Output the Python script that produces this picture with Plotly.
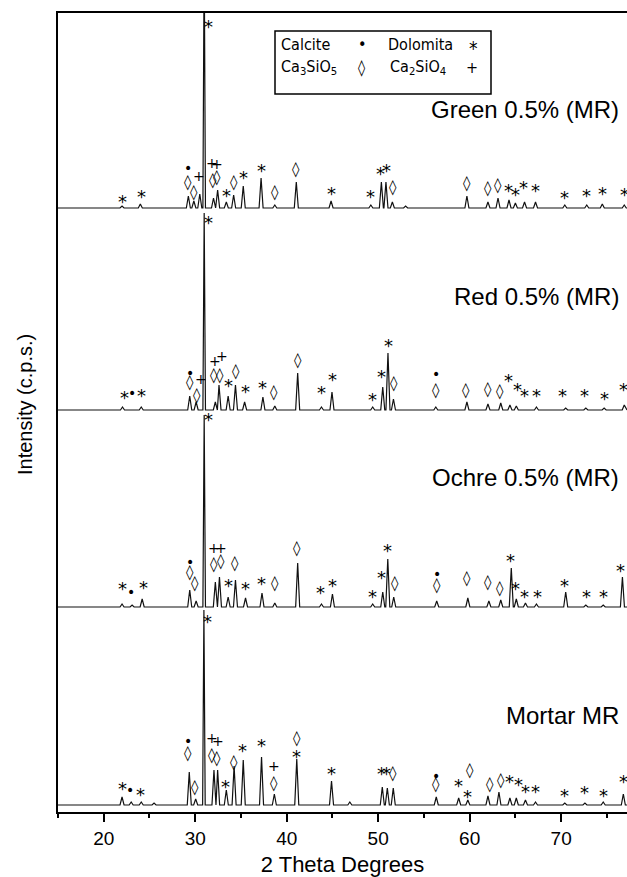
import plotly.graph_objects as go

# ---------------- data (2theta degrees, intensity in c.p.s.) ----------------
samples = ["Green 0.5% (MR)", "Red 0.5% (MR)", "Ochre 0.5% (MR)", "Mortar MR"]
offsets = [6040, 4020, 2050, 70]  # vertical stacking offset of each pattern

green_pos = [22.0, 24.0, 29.25, 29.85, 30.5, 30.98, 32.0, 32.45, 33.4, 34.2, 35.25, 37.2, 38.7, 41.05,
             44.85, 49.2, 50.35, 50.85, 51.55, 53.0, 59.7, 62.0, 63.1, 64.3, 65.0, 66.0, 67.2, 70.4, 72.8, 74.5, 76.9]
green_int = [20, 40, 120, 70, 140, 2600, 100, 180, 60, 130, 220, 300, 30, 260,
             70, 30, 260, 260, 60, 20, 120, 60, 100, 80, 50, 60, 60, 30, 30, 40, 30]

red_pos = [22.05, 24.1, 29.4, 30.1, 30.98, 32.2, 32.6, 33.6, 34.4, 35.4, 37.4, 38.7, 41.2, 43.8, 44.95,
           49.4, 50.5, 51.07, 51.67, 56.3, 59.7, 62.0, 63.4, 64.4, 65.1, 67.3, 70.5, 72.7, 74.7, 76.9]
red_int = [30, 30, 140, 80, 1970, 80, 250, 140, 250, 80, 130, 40, 370, 30, 180,
           30, 230, 570, 110, 30, 80, 60, 70, 50, 40, 30, 20, 20, 20, 50]

ochre_pos = [22.0, 23.1, 24.2, 29.4, 30.1, 30.98, 32.2, 32.65, 33.6, 34.4, 35.5, 37.3, 38.7, 41.2, 43.8,
             45.0, 49.4, 50.5, 51.05, 51.7, 56.4, 59.8, 62.1, 63.4, 64.55, 65.1, 66.1, 67.3, 70.5, 72.7, 74.6, 76.7]
ochre_int = [30, 20, 80, 170, 60, 1920, 250, 300, 100, 270, 90, 140, 40, 440, 30,
             130, 30, 150, 480, 100, 60, 90, 60, 70, 390, 80, 40, 30, 150, 20, 20, 300]

mortar_pos = [22.0, 23.0, 24.1, 25.5, 29.35, 30.05, 30.95, 32.05, 32.45, 33.4, 34.25, 35.25, 37.25, 38.65,
              41.1, 44.9, 46.9, 50.45, 51.0, 51.65, 56.35, 58.8, 59.8, 62.0, 63.2, 64.4, 65.1, 66.1, 67.2,
              70.4, 72.6, 74.6, 76.8]
mortar_int = [80, 30, 30, 20, 330, 60, 1950, 350, 350, 150, 390, 450, 480, 110,
              460, 240, 30, 180, 170, 170, 80, 70, 50, 90, 130, 70, 70, 50, 30,
              20, 20, 30, 110]

# phase marks: symbol, 2theta, height above the pattern baseline (c.p.s.)
green_sym = ["*", "*", "•", "◊", "◊", "+", "*", "+", "+", "◊", "◊", "*", "◊", "*", "*", "◊", "◊", "*", "*",
             "*", "*", "◊", "◊", "◊", "◊", "*", "*", "*", "*", "*", "*", "*", "*"]
green_sym_x = [22.1, 24.1, 29.25, 29.25, 29.85, 30.45, 31.45, 31.87, 32.4, 31.9, 32.4, 33.4, 34.25, 35.3, 37.25,
               38.75, 41.05, 44.9, 49.15, 50.3, 50.9, 51.6, 59.7, 62.0, 63.1, 64.3, 65.0, 65.9, 67.2, 70.4,
               72.8, 74.5, 76.9]
green_sym_y = [110, 160, 400, 260, 160, 320, 1860, 450, 440, 280, 310, 170, 260, 350, 420,
               160, 390, 190, 160, 390, 420, 210, 250, 200, 230, 220, 180, 250, 220, 150,
               170, 190, 180]

red_sym = ["*", "•", "*", "•", "◊", "◊", "+", "*", "+", "+", "◊", "◊", "*", "◊", "*", "*", "◊", "◊", "*", "*",
           "*", "*", "*", "◊", "•", "◊", "◊", "◊", "◊", "*", "*", "*", "*", "*", "*", "*", "*"]
red_sym_x = [22.25, 23.1, 24.15, 29.4, 29.4, 30.2, 30.6, 31.4, 32.2, 32.9, 32.1, 32.7, 33.6, 34.5, 35.5,
             37.4, 38.6, 41.2, 43.8, 45.05, 49.4, 50.4, 51.1, 51.7, 56.3, 56.3, 59.6, 62.0, 63.3, 64.3,
             65.2, 66.0, 67.3, 70.2, 72.6, 74.7, 76.8]
red_sym_y = [170, 170, 190, 370, 280, 150, 310, 1920, 490, 540, 350, 350, 290, 390, 230,
             270, 180, 500, 220, 350, 150, 380, 690, 270, 360, 200, 200, 210, 190, 340,
             250, 190, 190, 190, 190, 160, 250]

ochre_sym = ["*", "•", "*", "•", "◊", "◊", "*", "+", "+", "◊", "◊", "*", "◊", "*", "*", "◊", "◊", "*", "*",
             "*", "*", "*", "◊", "•", "◊", "◊", "◊", "◊", "*", "*", "*", "*", "*", "*", "*", "*"]
ochre_sym_x = [22.05, 22.95, 24.3, 29.4, 29.4, 29.95, 31.5, 32.1, 32.85, 32.1, 32.8, 33.6, 34.3, 35.5, 37.2,
               38.7, 41.1, 43.7, 45.0, 49.35, 50.4, 51.05, 51.8, 56.45, 56.45, 59.7, 62.0, 63.3, 64.5,
               65.0, 66.0, 67.45, 70.4, 72.8, 74.6, 76.5]
ochre_sym_y = [230, 150, 240, 450, 350, 240, 1920, 590, 590, 430, 460, 260, 440, 230, 280,
               240, 590, 190, 260, 150, 340, 610, 240, 330, 220, 290, 250, 190, 510,
               230, 150, 150, 260, 150, 150, 410]

mortar_sym = ["*", "•", "*", "•", "◊", "◊", "*", "+", "+", "◊", "◊", "*", "◊", "*", "*", "+", "◊", "◊", "*",
              "*", "*", "*", "◊", "•", "◊", "*", "*", "◊", "◊", "◊", "*", "*", "*", "*", "*", "*", "*", "*"]
mortar_sym_x = [22.1, 22.9, 24.0, 29.25, 29.25, 29.97, 31.3, 31.8, 32.5, 31.85, 32.4, 33.3, 34.2, 35.2, 37.2,
                38.6, 38.6, 41.1, 41.05, 44.9, 50.35, 50.9, 51.6, 56.3, 56.3, 58.8, 59.8, 60.0, 62.2, 63.4,
                64.4, 65.3, 66.1, 67.2, 70.4, 72.6, 74.6, 76.8]
mortar_sym_y = [210, 150, 150, 640, 520, 180, 1880, 670, 640, 500, 470, 230, 430, 590, 640,
                390, 220, 670, 530, 360, 360, 360, 320, 290, 210, 240, 130, 350, 210, 250,
                280, 250, 180, 180, 140, 170, 140, 280]

x_range = [15, 77.2]
y_range = [0, 7990]
tick_vals = [20, 30, 40, 50, 60, 70]
tick_text = ["20", "30", "40", "50", "60", "70"]

# ---------------- figure ----------------
W, H = 627, 877
ML, MR, MT, MB = 58, 0, 13, 65
PW, PH = W - ML - MR, H - MT - MB


def px_x(p):
    return (p - ML) / PW


def px_y(p):
    return (H - MB - p) / PH


def pattern(pos, inten, base):
    xs, ys = [x_range[0]], [base]
    for p, v in sorted(zip(pos, inten)):
        w = 0.14 if v > 1000 else 0.22
        left = p - w
        if left < xs[-1]:
            left = xs[-1]
        xs += [left, p, p + w]
        ys += [base, base + v, base]
    xs.append(x_range[1])
    ys.append(base)
    return xs, ys


fig = go.Figure()
series = [(green_pos, green_int), (red_pos, red_int), (ochre_pos, ochre_int), (mortar_pos, mortar_int)]
for (pos, inten), off, name in zip(series, offsets, samples):
    xs, ys = pattern(pos, inten, off)
    fig.add_trace(go.Scatter(x=xs, y=ys, mode="lines", name=name,
                             line=dict(color="#111111", width=1.2), showlegend=False,
                             hoverinfo="skip"))

sym_font = {"*": 18, "•": 14, "◊": 15, "+": 14}
sym_shift = {"*": -4, "•": 0, "◊": 0, "+": 0}
marks = [(green_sym, green_sym_x, green_sym_y), (red_sym, red_sym_x, red_sym_y),
         (ochre_sym, ochre_sym_x, ochre_sym_y), (mortar_sym, mortar_sym_x, mortar_sym_y)]
annotations = []
for (syms, sx, sy), off in zip(marks, offsets):
    for s, x, y in zip(syms, sx, sy):
        annotations.append(dict(x=x, y=off + y, xref="x", yref="y", text=s, showarrow=False,
                                yshift=sym_shift[s],
                                font=dict(family="DejaVu Sans", size=sym_font[s], color="black")))

# sample labels
label_y = [110, 297, 477, 715]
for name, ly in zip(samples, label_y):
    annotations.append(dict(x=px_x(621), y=px_y(ly), xref="paper", yref="paper", text=name,
                            showarrow=False, xanchor="right", yanchor="middle",
                            font=dict(family="Liberation Sans, Arial", size=24, color="black")))

# phase legend box
leg_family = "DejaVu Sans Condensed, DejaVu Sans"
leg_items = [("Calcite", 279, 44, "left"), ("•", 362, 44, "center"), ("Dolomita", 386, 44, "left"),
             ("*", 473, 44, "center"),
             ("Ca<sub>3</sub>SiO<sub>5</sub>", 279, 67, "left"), ("◊", 362, 67, "center"),
             ("Ca<sub>2</sub>SiO<sub>4</sub>", 388, 67, "left"), ("+", 472, 67, "center")]
for t, lx, ly, anc in leg_items:
    annotations.append(dict(x=px_x(lx), y=px_y(ly), xref="paper", yref="paper", text=t,
                            showarrow=False, xanchor=anc, yanchor="middle",
                            yshift=-4 if t == "*" else 0,
                            font=dict(family=leg_family, size=19 if t == "*" else 16,
                                      color="black")))

# y-axis title
annotations.append(dict(x=px_x(25), y=px_y(405), xref="paper", yref="paper",
                        text="Intensity (c.p.s.)", textangle=-90, showarrow=False,
                        xanchor="center", yanchor="middle",
                        font=dict(family="Liberation Sans, Arial", size=20, color="black")))

shapes = [dict(type="rect", xref="paper", yref="paper", x0=px_x(275), x1=px_x(491),
               y0=px_y(94), y1=px_y(31), line=dict(color="black", width=1.5))]

fig.update_layout(
    width=W, height=H,
    margin=dict(l=ML, r=MR, t=MT, b=MB),
    paper_bgcolor="white", plot_bgcolor="white",
    annotations=annotations, shapes=shapes,
    xaxis=dict(range=x_range, showline=True, linecolor="black", linewidth=2, mirror=True,
               ticks="outside", ticklen=8, tickwidth=2, tickcolor="black",
               tickmode="array", tickvals=tick_vals, ticktext=tick_text,
               minor=dict(tickmode="array", tickvals=[15, 25, 35, 45, 55, 65, 75], ticks="outside",
                          ticklen=4, tickwidth=2, tickcolor="black"),
               showgrid=False, zeroline=False,
               tickfont=dict(family="Liberation Sans, Arial", size=19, color="black"),
               title=dict(text="2 Theta Degrees", standoff=11,
                          font=dict(family="Liberation Sans, Arial", size=22, color="black"))),
    yaxis=dict(range=y_range, showline=True, linecolor="black", linewidth=2, mirror=False,
               ticks="", showticklabels=False, showgrid=False, zeroline=False),
)

fig.write_html("out.html", config={"displayModeBar": False},
               post_script="document.body.style.margin='0';document.body.style.overflow='hidden';")
